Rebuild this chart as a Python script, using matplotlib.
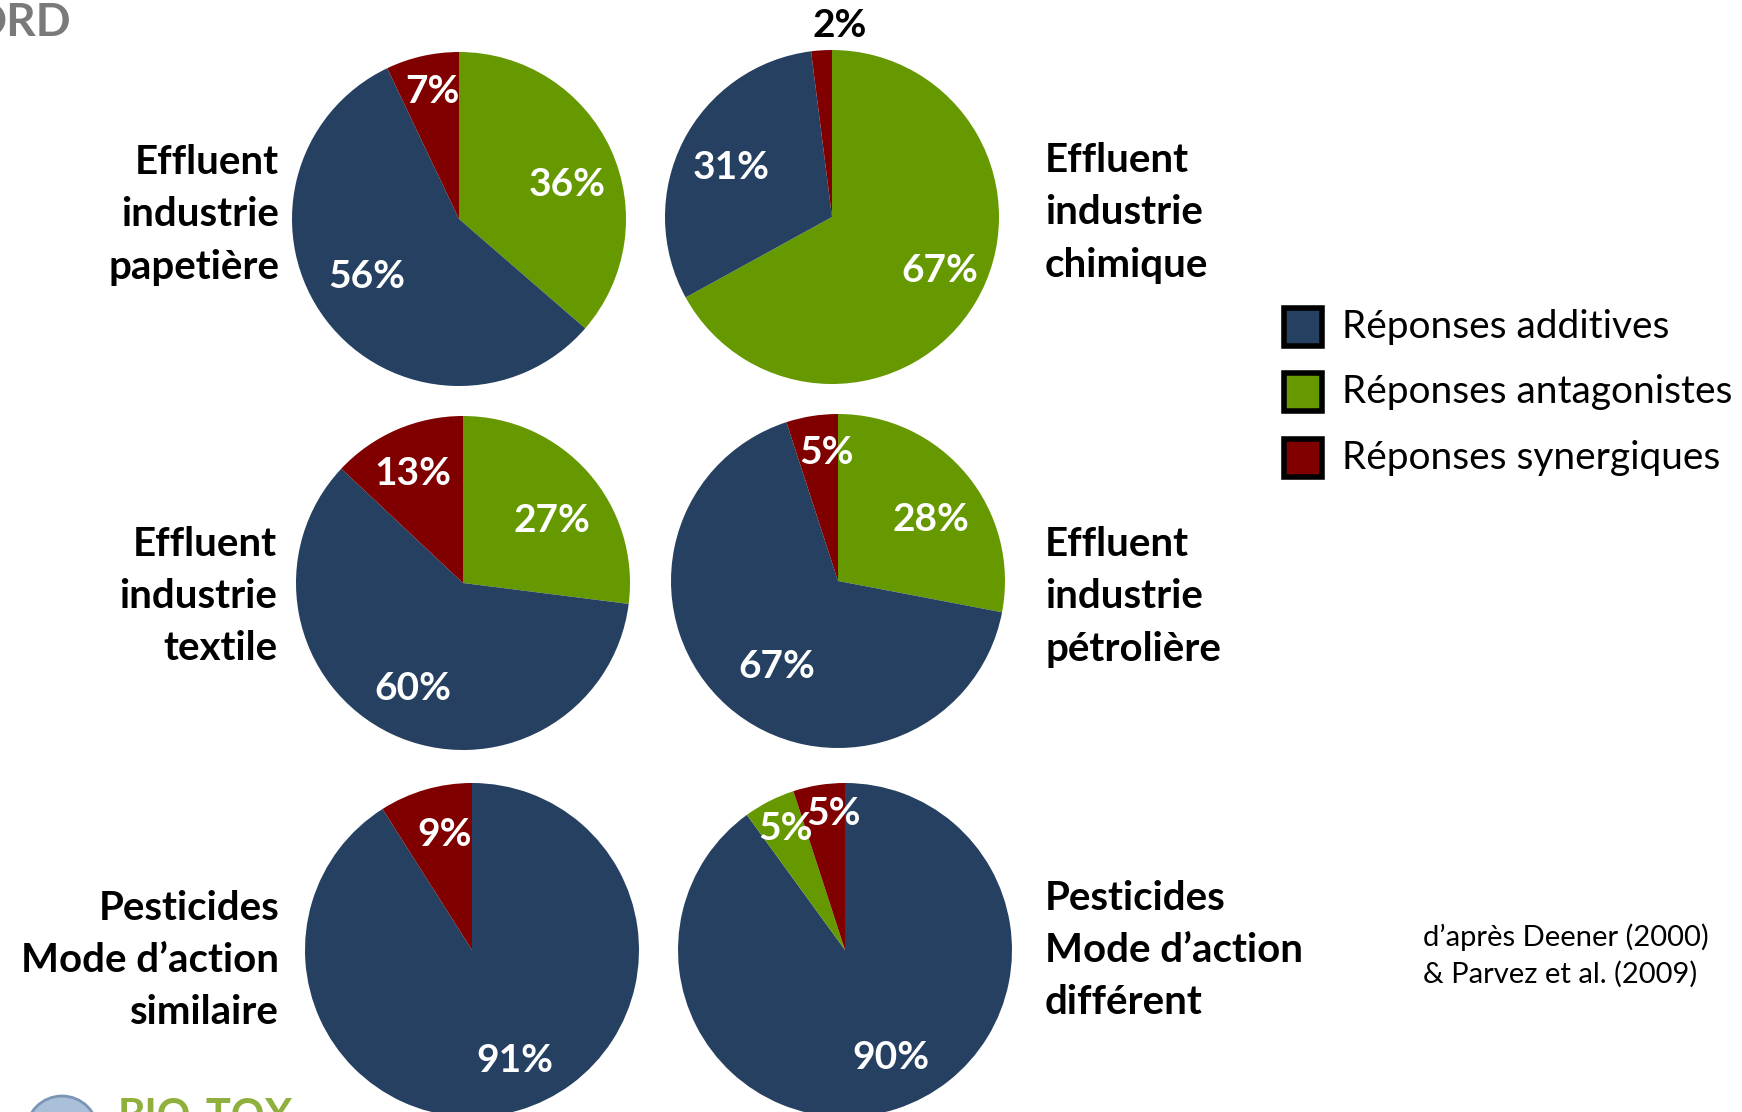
import numpy as np
import matplotlib
matplotlib.use('Agg')
import matplotlib.pyplot as plt
from matplotlib.patches import Rectangle, Circle

W, H = 1742, 1112

# share of each response type (%) for every mixture
series = ['Réponses additives', 'Réponses antagonistes', 'Réponses synergiques']
colors = ['#254061', '#669900', '#800000']

papetiere = [56, 36, 7]
chimique = [31, 67, 2]
textile = [60, 27, 13]
petroliere = [67, 28, 5]
pest_similaire = [91, 0, 9]
pest_different = [90, 5, 5]

titles = ['Effluent\nindustrie\npapetière', 'Effluent\nindustrie\nchimique',
          'Effluent\nindustrie\ntextile', 'Effluent\nindustrie\npétrolière',
          'Pesticides\nMode d\u2019action\nsimilaire', 'Pesticides\nMode d\u2019action\ndifférent']
mixtures = [papetiere, chimique, textile, petroliere, pest_similaire, pest_different]

# wedge order clockwise from 12 o'clock (indices into series)
orders = [[1, 0, 2], [1, 0, 2], [1, 0, 2], [1, 0, 2], [1, 0, 2], [0, 1, 2]]

# layout in pixels (y from top)
centers = [(459, 219), (832, 217), (463, 583), (838, 581), (472, 950), (845, 950)]
radius = 167
# label distance (fraction of radius) and angle shift (deg) per wedge, in wedge order
label_pos = [
    [(0.68, -7), (0.65, -5), (0.78, -1)],
    [(0.72, 4), (0.67, 1), (1.15, -6)],
    [(0.65, -6), (0.70, 0), (0.72, 1)],
    [(0.67, -6), (0.63, 6), (0.77, -4)],
    [(0.70, 0), (0.71, 5), (0.71, -3)],
    [(0.70, 5), (0.81, -1), (0.82, -4)],
]
title_pos = [(279, 215, 'right'), (1045, 213, 'left'), (277, 596, 'right'),
             (1045, 597, 'left'), (279, 960, 'right'), (1045, 951, 'left')]

plt.rcParams['font.family'] = ['Lato', 'DejaVu Sans']

fig = plt.figure(figsize=(W / 100, H / 100), dpi=100)
ax = fig.add_axes([0, 0, 1, 1])

for vals, order, (cx, cy), lp, title, tp in zip(mixtures, orders, centers, label_pos, titles, title_pos):
    cy = H - cy
    v = [vals[i] for i in order]
    c = [colors[i] for i in order]
    wedges, _ = ax.pie(v, colors=c, startangle=90, counterclock=False,
                       center=(cx, cy), radius=radius,
                       wedgeprops=dict(linewidth=0))
    for w, val, (d, shift) in zip(wedges, v, lp):
        if val == 0:
            continue
        ang = np.deg2rad((w.theta1 + w.theta2) / 2 + shift)
        col = 'black' if d > 1 else 'white'
        ax.text(cx + d * radius * np.cos(ang), cy + d * radius * np.sin(ang), f'{val}%',
                ha='center', va='center', color=col, fontsize=28, fontweight='bold')
    tx, ty, al = tp
    ax.text(tx, H - ty, title, ha=al, va='center', multialignment=al,
            fontsize=29, fontweight='bold', color='black', linespacing=1.5)

# legend
leg_y = [327, 392, 458]
for name, col, y in zip(series, colors, leg_y):
    ax.add_patch(Rectangle((1284, H - y - 19), 38, 38, facecolor=col,
                           edgecolor='black', linewidth=4))
    ax.text(1342, H - y, name, ha='left', va='center', fontsize=28, color='black')

ax.text(1423, H - 956, 'd\u2019après Deener (2000)\n& Parvez et al. (2009)', ha='left',
        va='center', fontsize=21, color='black', linespacing=1.45)

# slide header remnant and logo
ax.text(71, H - 23, 'ORD', ha='right', va='center', fontsize=33, fontweight='bold',
        color='#7a7a7a')
ax.add_patch(Circle((62, H - 1132), 36, facecolor='#aac0d9', edgecolor='#7d95b5', linewidth=2))
ax.text(118, H - 1098, 'BIO-TOX', ha='left', va='top', fontsize=30, fontweight='bold',
        color='#8fb03c')

ax.set_xlim(0, W)
ax.set_ylim(0, H)
ax.set_aspect('equal')
ax.axis('off')

fig.savefig('out.png', dpi=100)
